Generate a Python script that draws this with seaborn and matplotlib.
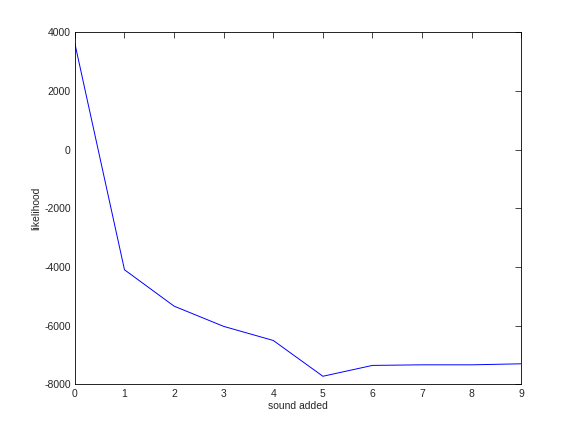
import numpy as np
import pandas as pd
import matplotlib
matplotlib.use("Agg")
import matplotlib.pyplot as plt
import seaborn as sns

sns.set_style("white")
plt.rcParams["font.family"] = ["Liberation Sans", "DejaVu Sans"]
plt.rcParams["axes.unicode_minus"] = False

# values
sound_added = [0, 1, 2, 3, 4, 5, 6, 7, 8, 9]
likelihood = [3620, -4090, -5330, -6020, -6500, -7720, -7350, -7330, -7330, -7295]

df = pd.DataFrame({"sound added": sound_added, "likelihood": likelihood})

fig = plt.figure(figsize=(5.76, 4.32), dpi=100)
ax = fig.add_axes([0.13, 0.11, 0.775, 0.815])

sns.lineplot(data=df, x="sound added", y="likelihood", color="#0000ff",
             linewidth=0.7, ax=ax)

ax.set_xlim(0, 9)
ax.set_ylim(-8000, 4000)
ax.set_xticks(range(0, 10))
ax.set_yticks(np.arange(-8000, 4001, 2000))
ax.set_xlabel("sound added", fontsize=7.5, labelpad=2)
ax.set_ylabel("likelihood", fontsize=7.5, labelpad=2)
ax.tick_params(direction="in", length=4, width=0.6, labelsize=7.5,
               top=True, right=True, pad=3)
for s in ax.spines.values():
    s.set_linewidth(0.6)
    s.set_color("black")

fig.savefig("out.png", dpi=100)
